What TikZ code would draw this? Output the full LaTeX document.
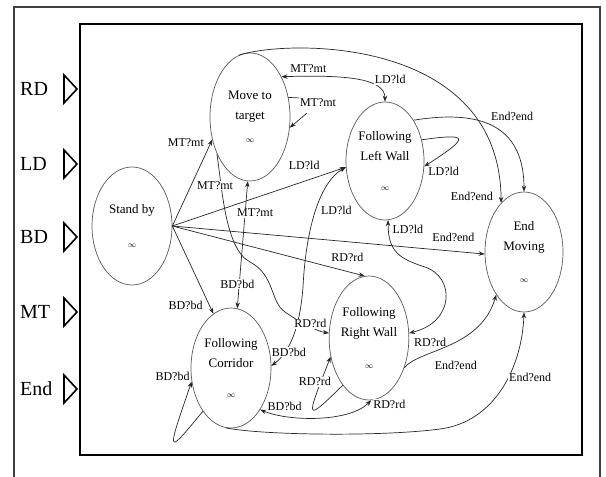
\documentclass[tikz,border=0pt]{standalone}
\usepackage{fontspec}
\setmainfont{Liberation Serif}
\usetikzlibrary{arrows.meta,shapes.geometric}
\newcommand\inff{{\fontsize{8}{8}\selectfont$\infty$}}

\begin{document}
\begin{tikzpicture}[x=1pt,y=1pt,>={Stealth[length=6pt,width=4.5pt]},
  state/.style={draw=black!65,ellipse,line width=0.7pt,inner sep=0pt,align=center,
    font=\fontsize{13}{20}\selectfont},
  lbl/.style={fill=white,inner sep=0.8pt,font=\fontsize{12}{12}\selectfont},
  tr/.style={draw=black!85,line width=0.7pt},
  port/.style={line width=1.6pt}]
\useasboundingbox (0,0) rectangle (606,477);
\draw[line width=1.5pt,black!75] (14,-5) -- (14,470) -- (600,470) -- (600,-5);
\draw[line width=2pt] (80,22) rectangle (582,452.5);
% input ports
\foreach \nm/\yy in {RD/388,LD/313,BD/240,MT/165,End/88}{
  \node[anchor=west,inner sep=0pt,font=\fontsize{20}{20}\selectfont] (in\nm) at (20,\yy) {\nm};
  \draw[port] (64,\yy+14) -- (77,\yy) -- (64,\yy-14) -- cycle;
}
% states
\node[state,minimum width=80pt,minimum height=118pt] (stb) at (132,251) {Stand by\\[14pt]\inff};
\node[state,minimum width=80pt,minimum height=128pt] (mtt) at (250,360) {Move to\\target\\[3pt]\inff};
\node[state,minimum width=78pt,minimum height=118pt] (flw) at (385,316) {Following\\Left Wall\\[10pt]\inff};
\node[state,minimum width=78pt,minimum height=120pt] (emv) at (524,225) {End\\Moving\\[12pt]\inff};
\node[state,minimum width=78pt,minimum height=124pt] (frw) at (369,139) {Following\\Right Wall\\[12pt]\inff};
\node[state,minimum width=80pt,minimum height=120pt] (fco) at (231,109) {Following\\Corridor\\[10pt]\inff};
% from stand by
\draw[tr,->] (stb.east) -- node[lbl,pos=.97,left=6pt] {MT?mt} (mtt.211);
\draw[tr,->] (stb.east) -- node[lbl,pos=.76,above=10pt] {LD?ld} (flw.189);
\draw[tr,->] (stb.east) -- node[lbl,pos=.9,above=8pt] {End?end} (emv.183);
\draw[tr,->] (stb.east) -- node[lbl,pos=.91,above=9pt] {RD?rd} (frw.94);
\draw[tr,->] (stb.east) -- node[lbl,pos=.91,left=6pt] {BD?bd} (fco.108);
% move to target
\node[lbl] (mtself) at (318,374) {MT?mt};
\draw[tr,->] (mtt.27) -- (mtself.north west) ([xshift=8pt,yshift=-5pt]mtself.south west) -- (mtt.345);
\draw[tr,<->] (mtt.52) .. controls (340,402) and (385,400) .. node[lbl,pos=.16,above=2pt] {MT?mt}
  node[lbl,pos=.7,anchor=south west] {LD?ld} (flw.north);
\draw[tr,->] (mtt.100) .. controls (290,438) and (500,440) .. node[lbl,pos=1,left=7pt,yshift=6pt] {End?end} (emv.115);
\draw[tr,<->] (mtt.268) -- node[lbl,pos=.25,xshift=10pt] {MT?mt} node[lbl,pos=.81,xshift=-2pt] {BD?bd} (fco.84);
% left wall
\draw[tr,->] (flw.55) .. controls (465,365) and (524,362) .. node[lbl,pos=.5,above right=2pt] {End?end} (emv.north);
\draw[tr,->] (flw.30) .. controls (470,344) and (470,340) .. node[lbl,pos=1,anchor=north west,xshift=3pt] {LD?ld} (flw.-8);
\draw[tr,<->] (flw.-87) .. controls (388,225) and (400,218) .. node[lbl,pos=.1,anchor=west,xshift=3pt] {LD?ld} (425,210)
  .. controls (455,200) and (455,155) .. node[lbl,pos=1,anchor=north west,xshift=4pt,yshift=-4pt] {RD?rd} (frw.7);
% corridor
\draw[tr,<->] (fco.3) .. controls (290,125) and (300,150) .. node[lbl,pos=.3,xshift=3pt,yshift=-2pt] {BD?bd} (303,190)
  .. controls (306,250) and (320,295) .. node[lbl,pos=.5,anchor=west,xshift=4pt] {LD?ld} (flw.189);
\draw[tr,->] (mtt.228) .. controls (222,290) and (225,228) .. node[lbl,pos=.27,xshift=-6pt] {MT?mt} (250,215)
  .. controls (275,202) and (270,175) .. (285,165)
  .. controls (295,158) and (315,146) .. node[lbl,pos=.6,yshift=3pt] {RD?rd} (frw.173);
\draw[tr,<->] (fco.-55) .. controls (290,55) and (350,55) .. node[lbl,pos=.23,above=4pt] {BD?bd}
  node[lbl,pos=1,anchor=west,xshift=1pt,yshift=-4pt] {RD?rd} (frw.-88);
\draw[tr,->] (frw.241) .. controls (305,55) and (305,55) .. node[lbl,pos=.85,xshift=-6pt] {RD?rd} (frw.206);
\draw[tr,->] (fco.237) .. controls (166,21) and (166,21) .. node[lbl,pos=1,left=1pt,yshift=5pt] {BD?bd} (fco.199);
% to end moving
\draw[tr,->] (frw.-40) .. controls (420,128) and (480,128) .. node[lbl,pos=.55,below=18pt] {End?end} (emv.237);
\draw[tr,->] (fco.265) .. controls (260,42) and (380,40) .. (440,48)
  .. controls (495,55) and (522,110) .. node[lbl,pos=.58,right=0pt] {End?end} (emv.south);
\end{tikzpicture}
\end{document}
